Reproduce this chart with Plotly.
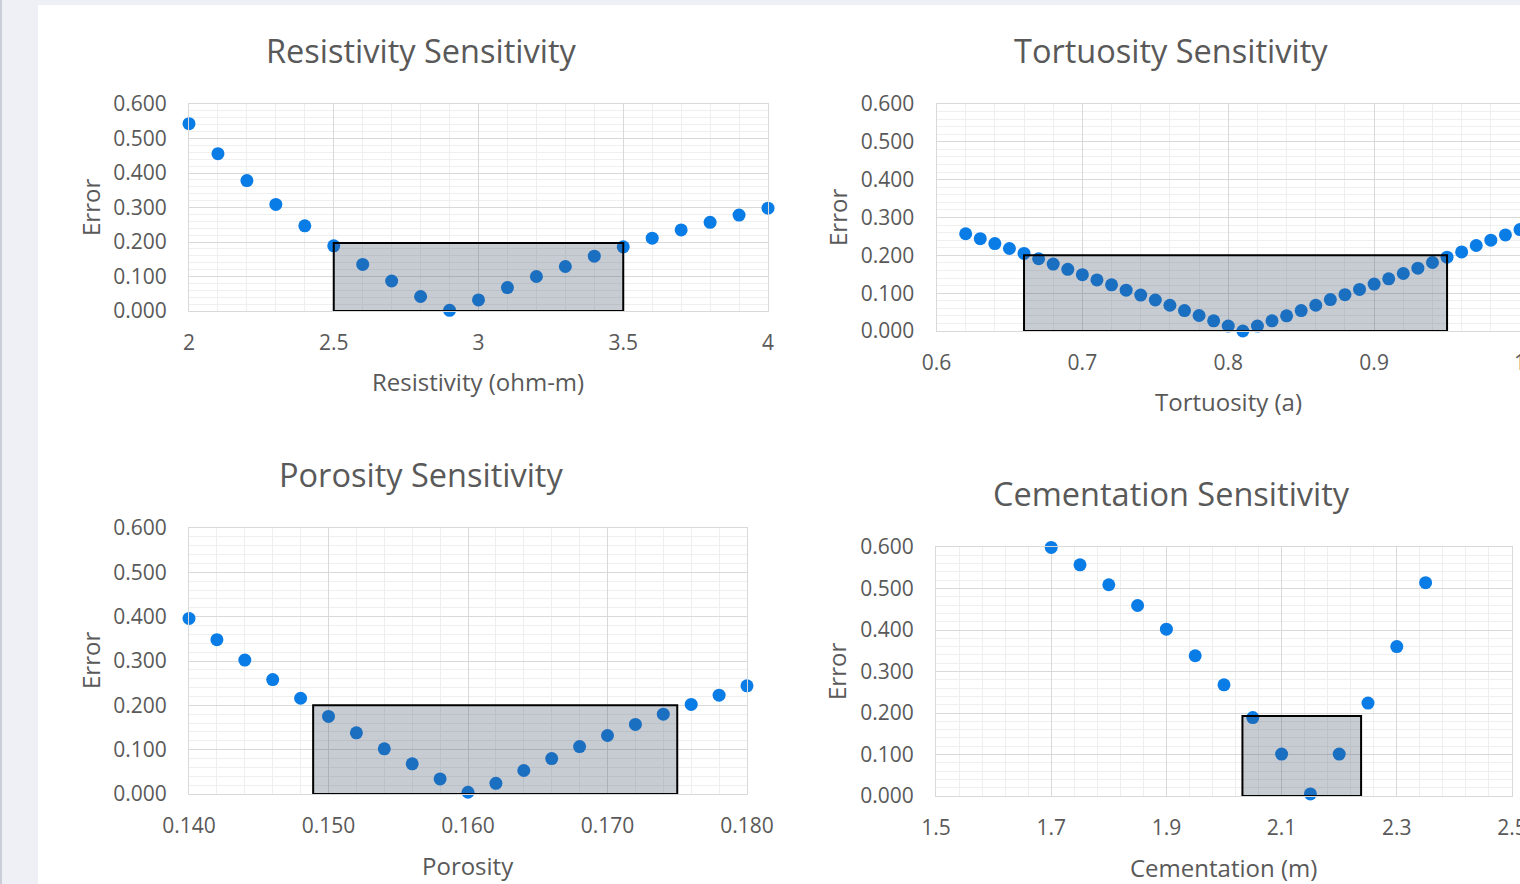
import plotly.graph_objects as go

# ---------------- data ----------------
resistivity_x = [2.0, 2.1, 2.2, 2.3, 2.4, 2.5, 2.6, 2.7, 2.8, 2.9, 3.0,
                 3.1, 3.2, 3.3, 3.4, 3.5, 3.6, 3.7, 3.8, 3.9, 4.0]
resistivity_err = [0.543, 0.456, 0.378, 0.309, 0.247, 0.189, 0.135, 0.087, 0.042, 0.002, 0.032,
                   0.068, 0.100, 0.129, 0.159, 0.186, 0.211, 0.235, 0.257, 0.278, 0.298]
resistivity_band = [2.5, 3.5, 0.0, 0.197]

tortuosity_x = [0.62, 0.63, 0.64, 0.65, 0.66, 0.67, 0.68, 0.69, 0.70, 0.71,
                0.72, 0.73, 0.74, 0.75, 0.76, 0.77, 0.78, 0.79, 0.80, 0.81,
                0.82, 0.83, 0.84, 0.85, 0.86, 0.87, 0.88, 0.89, 0.90, 0.91,
                0.92, 0.93, 0.94, 0.95, 0.96, 0.97, 0.98, 0.99, 1.00]
tortuosity_err = [0.257, 0.244, 0.231, 0.218, 0.205, 0.191, 0.177, 0.163, 0.149, 0.135,
                  0.122, 0.108, 0.095, 0.082, 0.068, 0.054, 0.041, 0.027, 0.013, 0.000,
                  0.013, 0.027, 0.040, 0.054, 0.068, 0.083, 0.096, 0.110, 0.124, 0.138,
                  0.152, 0.166, 0.181, 0.195, 0.209, 0.226, 0.240, 0.254, 0.268]
tortuosity_band = [0.66, 0.95, 0.0, 0.200]

porosity_x = [0.140, 0.142, 0.144, 0.146, 0.148, 0.150, 0.152, 0.154, 0.156, 0.158, 0.160,
              0.162, 0.164, 0.166, 0.168, 0.170, 0.172, 0.174, 0.176, 0.178, 0.180]
porosity_err = [0.396, 0.348, 0.302, 0.258, 0.216, 0.175, 0.138, 0.102, 0.068, 0.034, 0.004,
                0.024, 0.053, 0.080, 0.107, 0.132, 0.157, 0.180, 0.202, 0.223, 0.244]
porosity_band = [0.1489, 0.1750, 0.0, 0.200]

cementation_x = [1.70, 1.75, 1.80, 1.85, 1.90, 1.95, 2.00, 2.05, 2.10, 2.15, 2.20, 2.25, 2.30, 2.35]
cementation_err = [0.599, 0.557, 0.509, 0.459, 0.402, 0.338, 0.268, 0.189, 0.101, 0.005,
                   0.101, 0.224, 0.360, 0.514]
cementation_band = [2.032, 2.238, 0.0, 0.193]

titles = ["Resistivity Sensitivity", "Tortuosity Sensitivity",
          "Porosity Sensitivity", "Cementation Sensitivity"]
x_titles = ["Resistivity (ohm-m)", "Tortuosity (a)", "Porosity", "Cementation (m)"]
y_title = "Error"

# ---------------- layout helpers ----------------
W, H = 1520, 884
FONT = "Open Sans"
TXT = "#595959"
BLUE = "#0a7ce6"
MAJ = "#d9d9d9"
MIN = "#efefef"


def fx(px):
    return px / W


def fy(py):
    return 1 - py / H


fig = go.Figure()

panels = [
    # (x, y, band, xrange, xdtick, xminor, xfmt, xdom px, ydom px, tick0)
    (resistivity_x, resistivity_err, resistivity_band, [2, 4], 0.5, 0.1, "", (189, 768), (104, 311), 2),
    (tortuosity_x, tortuosity_err, tortuosity_band, [0.6, 1.0], 0.1, 0.02, "", (936.5, 1520), (104, 331), 0.6),
    (porosity_x, porosity_err, porosity_band, [0.14, 0.18], 0.01, 0.002, ".3f", (189, 747), (528, 794), 0.14),
    (cementation_x, cementation_err, cementation_band, [1.5, 2.5], 0.2, 0.04, ".1f", (936, 1512), (547, 796), 1.5),
]

for i, (xs, ys, band, xr, dt, mdt, fmt, xd, yd, t0) in enumerate(panels):
    n = "" if i == 0 else str(i + 1)
    fig.add_trace(go.Scatter(
        x=xs, y=ys, mode="markers", xaxis="x" + n, yaxis="y" + n,
        marker=dict(color=BLUE, size=13, line=dict(width=0)),
        cliponaxis=False, showlegend=False, hoverinfo="x+y"))
    fig.update_layout(**{
        "xaxis" + n: dict(
            domain=[fx(xd[0]), fx(xd[1])], anchor="y" + n, range=xr, automargin=False,
            tick0=t0, dtick=dt, tickformat=fmt, showgrid=True, gridcolor=MAJ, gridwidth=1,
            minor=dict(dtick=mdt, tick0=t0, showgrid=True, gridcolor=MIN, gridwidth=1),
            showline=True, linecolor=MAJ, linewidth=1, mirror=True, zeroline=False,
            ticks="", ticklabelstandoff=13, ticklabeloverflow="allow",
            tickfont=dict(family=FONT, size=21, color=TXT), fixedrange=True),
        "yaxis" + n: dict(
            domain=[fy(yd[1]), fy(yd[0])], anchor="x" + n, range=[0, 0.6], automargin=False,
            dtick=0.1, tickformat=".3f", showgrid=True, gridcolor=MAJ, gridwidth=1,
            minor=dict(dtick=0.02, showgrid=True, gridcolor=MIN, gridwidth=1),
            showline=True, linecolor=MAJ, linewidth=1, mirror=True, zeroline=False,
            ticks="", ticklabelstandoff=17,
            tickfont=dict(family=FONT, size=21, color=TXT), fixedrange=True),
    })
    fig.add_shape(type="rect", xref="x" + n, yref="y" + n,
                  x0=band[0], x1=band[1], y0=band[2], y1=band[3],
                  fillcolor="rgba(68,84,106,0.3)", line=dict(color="black", width=2),
                  layer="above")

# background: light page with white chart sheet
fig.add_shape(type="rect", xref="paper", yref="paper", x0=fx(38), x1=1.02, y0=-0.01, y1=fy(5),
              fillcolor="white", line=dict(width=0), layer="below")
fig.add_shape(type="line", xref="paper", yref="paper", x0=fx(1), x1=fx(1), y0=0, y1=1,
              line=dict(color="#c9ced9", width=2), layer="below")

# titles / axis titles
title_pos = [(421, 50), (1171, 50), (421, 474), (1171, 493)]
xt_pos = [(478, 381), (1228, 402), (468, 865), (1223, 867)]
yt_pos = [(90, 208), (837, 218), (90, 661), (836, 672)]
for i in range(4):
    fig.add_annotation(text=titles[i], x=fx(title_pos[i][0]), y=fy(title_pos[i][1]),
                       xref="paper", yref="paper", showarrow=False,
                       xanchor="center", yanchor="middle",
                       font=dict(family=FONT, size=32.5, color=TXT))
    fig.add_annotation(text=x_titles[i], x=fx(xt_pos[i][0]), y=fy(xt_pos[i][1]),
                       xref="paper", yref="paper", showarrow=False,
                       xanchor="center", yanchor="middle",
                       font=dict(family=FONT, size=24, color=TXT))
    fig.add_annotation(text=y_title, x=fx(yt_pos[i][0]), y=fy(yt_pos[i][1]),
                       xref="paper", yref="paper", showarrow=False, textangle=-90,
                       xanchor="center", yanchor="middle",
                       font=dict(family=FONT, size=24, color=TXT))

fig.update_layout(width=W, height=H, margin=dict(l=0, r=0, t=0, b=0, autoexpand=False),
                  paper_bgcolor="#eef0f5", plot_bgcolor="white", showlegend=False)

fig.write_html("out.html", config={"displayModeBar": False},
               post_script="document.body.style.margin='0px';document.body.style.overflow='hidden';")
